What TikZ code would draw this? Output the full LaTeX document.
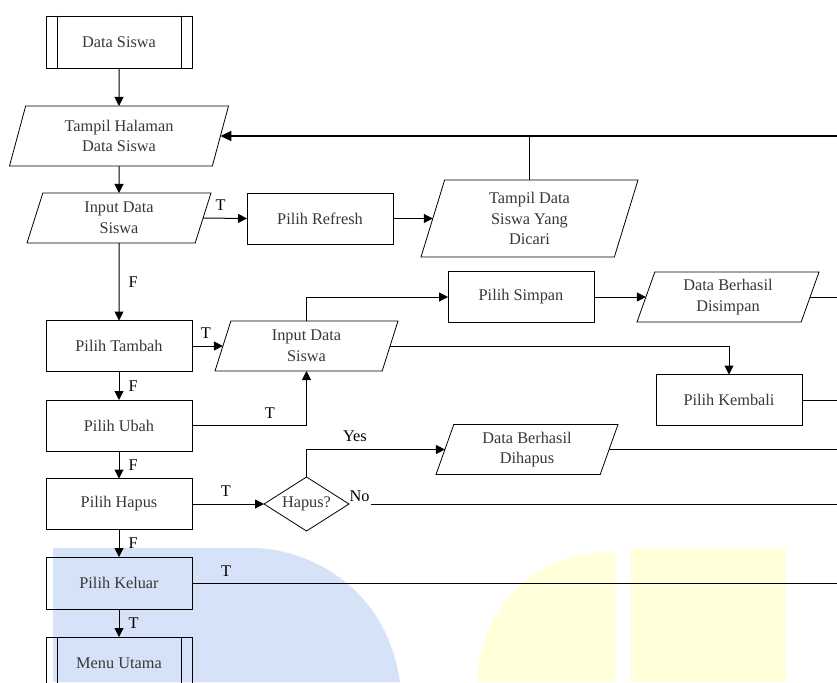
\documentclass[tikz,border=0pt]{standalone}
\usepackage{fontspec}
\setmainfont{Liberation Serif}
\usetikzlibrary{shapes.geometric,arrows.meta}
\definecolor{wmblue}{RGB}{214,226,247}
\definecolor{wmyellow}{RGB}{255,255,218}
\definecolor{txtgray}{RGB}{55,55,55}

\begin{document}
\begin{tikzpicture}[x=1pt,y=-1pt,
  font=\fontsize{16.3}{20.8}\selectfont,
  proc/.style={draw, rectangle, line width=0.8pt, minimum width=146pt, minimum height=51pt, inner sep=0pt, outer sep=0pt, text=txtgray},
  io/.style={draw, trapezium, trapezium left angle=63.4, trapezium right angle=116.6, trapezium stretches body, line width=0.8pt, minimum width=#1, minimum height=50pt, inner sep=0pt, outer sep=0pt, align=center, text=txtgray},
  decision/.style={draw, diamond, aspect=1.57, line width=0.8pt, minimum width=85pt, minimum height=54pt, inner sep=0pt, outer sep=0pt, text=txtgray},
  line/.style={line width=1pt},
  arr/.style={line width=1pt, -{Triangle[length=9pt,width=9pt]}},
  lbl/.style={inner sep=1pt, text=black}]
  \useasboundingbox (0,0) rectangle (837,682);

  % watermark in the background
  \fill[wmblue] (53,682) -- (53,548) -- (253,548) .. controls (300,548) and (385,580) .. (400,682) -- cycle;
  \fill[wmyellow] (477,682) .. controls (480,610) and (530,555) .. (605,552) -- (615,552) -- (615,682) -- cycle;
  \fill[wmyellow] (631,548) rectangle (786,682);

  % left column
  \node[proc, minimum height=52pt] (datasiswa) at (119,42) {Data Siswa};
  \node[io=219pt, minimum height=60pt] (tampil) at (119,136) {Tampil Halaman\\Data Siswa};
  \node[io=184pt] (input) at (119,218) {Input Data\\Siswa};
  \node[proc] (tambah) at (119,346) {Pilih Tambah};
  \node[proc] (ubah) at (119,425.5) {Pilih Ubah};
  \node[proc] (hapus) at (119,504) {Pilih Hapus};
  \node[proc, minimum height=52pt] (keluar) at (119,583) {Pilih Keluar};
  \node[proc, minimum height=52pt] (menu) at (119,663) {Menu Utama};

  % right part
  \node[proc] (refresh) at (320,218.5) {Pilih Refresh};
  \node[io=217pt, minimum height=77pt, trapezium left angle=66, trapezium right angle=114] (tampilcari) at (529.5,218.5) {Tampil Data\\Siswa Yang\\Dicari};
  \node[io=183pt] (input2) at (306.5,346) {Input Data\\Siswa};
  \node[proc] (simpan) at (521,297) {Pilih Simpan};
  \node[io=182pt] (disimpan) at (728,297) {Data Berhasil\\Disimpan};
  \node[proc] (kembali) at (729,400) {Pilih Kembali};
  \node[io=182pt] (dihapus) at (527,449.5) {Data Berhasil\\Dihapus};
  \node[decision] (konfirmasi) at (306.5,504) {Hapus?};

  % double sides of the predefined processes
  \draw[line width=1pt] ([xshift=11pt]datasiswa.north west) -- ([xshift=11pt]datasiswa.south west);
  \draw[line width=1pt] ([xshift=-11pt]datasiswa.north east) -- ([xshift=-11pt]datasiswa.south east);
  \draw[line width=1pt] ([xshift=11pt]menu.north west) -- ([xshift=11pt]menu.south west);
  \draw[line width=1pt] ([xshift=-11pt]menu.north east) -- ([xshift=-11pt]menu.south east);

  % loose ends at the right border
  \coordinate (balik) at (837,136);
  \coordinate (ujung1) at (837,297);
  \coordinate (ujung2) at (837,400);
  \coordinate (ujung3) at (837,449.5);
  \coordinate (ujung4) at (837,504);
  \coordinate (ujung5) at (837,583);

  % flow
  \draw[arr] (datasiswa.south) -- (tampil.north);
  \draw[arr] (tampil.south) -- (input.north);
  \draw[arr] (input.right side) -- node[lbl, above=6pt, pos=0.4] {T} (refresh.west);
  \draw[arr] (refresh.east) -- (refresh.east -| tampilcari.left side);
  \draw[line] (tampilcari |- tampilcari.north) -- (tampilcari |- balik);
  \draw[line width=2pt, -{Triangle[length=11pt,width=10pt]}] (balik) -- (tampil.right side);
  \draw[arr] (input.south) -- node[lbl, right=8pt] {F} (tambah.north);
  \draw[arr] (tambah.east) -- node[lbl, above=6pt, pos=0.45] {T} (tambah.east -| input2.left side);
  \draw[arr] (tambah.south) -- node[lbl, right=8pt] {F} (ubah.north);
  \draw[arr] (ubah.east) -| node[lbl, above=6pt, pos=0.34] {T} (input2 |- input2.south);
  \draw[arr] (ubah.south) -- node[lbl, right=8pt] {F} (hapus.north);
  \draw[arr] (input2 |- input2.north) |- (simpan.west);
  \draw[arr] (input2.right side) -| (kembali.north);
  \draw[arr] (simpan.east) -- (disimpan.left side);
  \draw[line] (disimpan.right side) -- (ujung1);
  \draw[line] (kembali.east) -- (ujung2);
  \draw[arr] (hapus.east) -- node[lbl, above=6pt, pos=0.47] {T} (konfirmasi.west);
  \draw[arr] (konfirmasi.north) |- node[lbl, above=6pt, pos=0.675] {Yes} (dihapus.left side);
  \draw[line] (dihapus.right side) -- (ujung3);
  \draw[line] ([xshift=22pt]konfirmasi.east) node[lbl, anchor=east, yshift=8pt] {No} -- (ujung4);
  \draw[arr] (hapus.south) -- node[lbl, right=8pt] {F} (keluar.north);
  \draw[line] (keluar.east) -- node[lbl, above=5pt, pos=0.053] {T} (ujung5);
  \draw[arr] (keluar.south) -- node[lbl, right=8pt] {T} (menu.north);
\end{tikzpicture}
\end{document}
